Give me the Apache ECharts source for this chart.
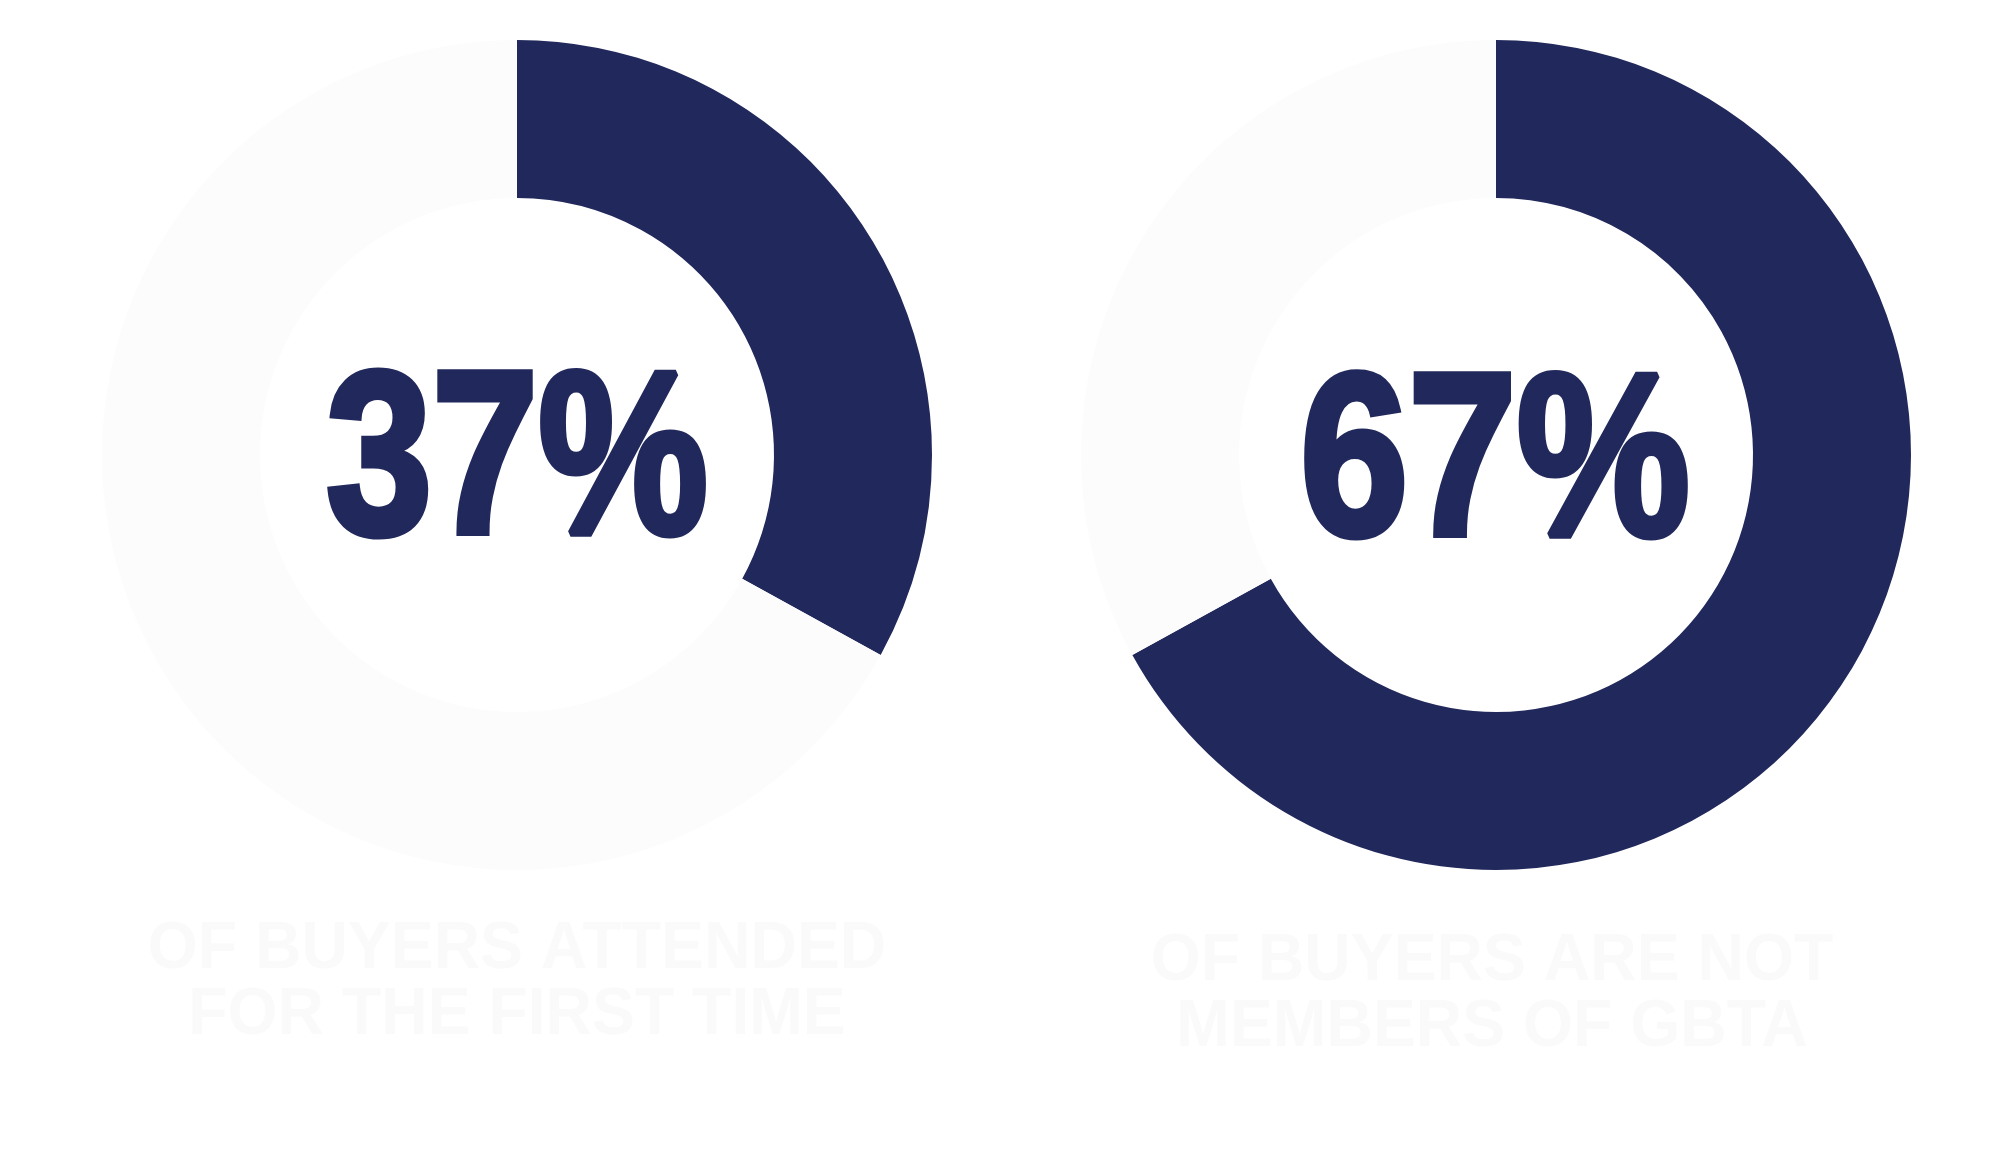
<!DOCTYPE html>
<html>
<head>
<meta charset="utf-8">
<script src="https://cdn.jsdelivr.net/npm/echarts@6/dist/echarts.min.js"></script>
<style>
  html, body { margin: 0; padding: 0; background: #ffffff; }
  #chart { width: 2000px; height: 1150px; }
</style>
</head>
<body>
<div id="chart"></div>
<script>
// ---- data ----
const sliceNames = ['Highlighted', 'Remainder'];
const leftShares = [33, 67];      // arc drawn in the left ring (navy, light)
const rightShares = [67, 33];     // arc drawn in the right ring (navy, light)
const headlineValues = ['37%', '67%'];
const leftCaption = ['OF BUYERS ATTENDED', 'FOR THE FIRST TIME'];
const rightCaption = ['OF BUYERS ARE NOT', 'MEMBERS OF GBTA'];

const NAVY = '#21285b';
const LIGHT = '#fcfcfc';
const CAPTION = '#fafafa';

const chart = echarts.init(document.getElementById('chart'), null, { renderer: 'canvas' });

function ring(centerX, shares) {
  return {
    type: 'pie',
    center: [centerX, 455],
    radius: [257, 415],
    startAngle: 90,
    clockwise: true,
    silent: true,
    animation: false,
    label: { show: false },
    labelLine: { show: false },
    emphasis: { disabled: true },
    itemStyle: { borderWidth: 0 },
    data: shares.map((v, i) => ({
      name: sliceNames[i],
      value: v,
      itemStyle: { color: i === 0 ? NAVY : LIGHT }
    }))
  };
}

const bigFont = 'bold 232px "Liberation Sans", Arial, sans-serif';
const capFont = 'bold 67px "Liberation Sans", Arial, sans-serif';

function headline(x, y, txt, sx) {
  return { type: 'text', silent: true, x: x, y: y, scaleX: sx,
    style: { text: txt, font: bigFont, fill: NAVY, stroke: NAVY, lineWidth: 7,
             align: 'center', verticalAlign: 'middle' } };
}
function caption(x, y, lines) {
  return { type: 'text', silent: true, x: x, y: y, scaleX: 0.96,
    style: { text: lines.join('\n'), font: capFont, lineHeight: 66, fill: CAPTION,
             align: 'center', verticalAlign: 'top' } };
}

chart.setOption({
  backgroundColor: '#ffffff',
  animation: false,
  series: [ring(517, leftShares), ring(1496, rightShares)],
  graphic: [
    headline(517, 469, headlineValues[0], 0.823),
    headline(1495, 471, headlineValues[1], 0.84),
    caption(517, 917, leftCaption),
    caption(1492, 929, rightCaption)
  ]
});
</script>
</body>
</html>
